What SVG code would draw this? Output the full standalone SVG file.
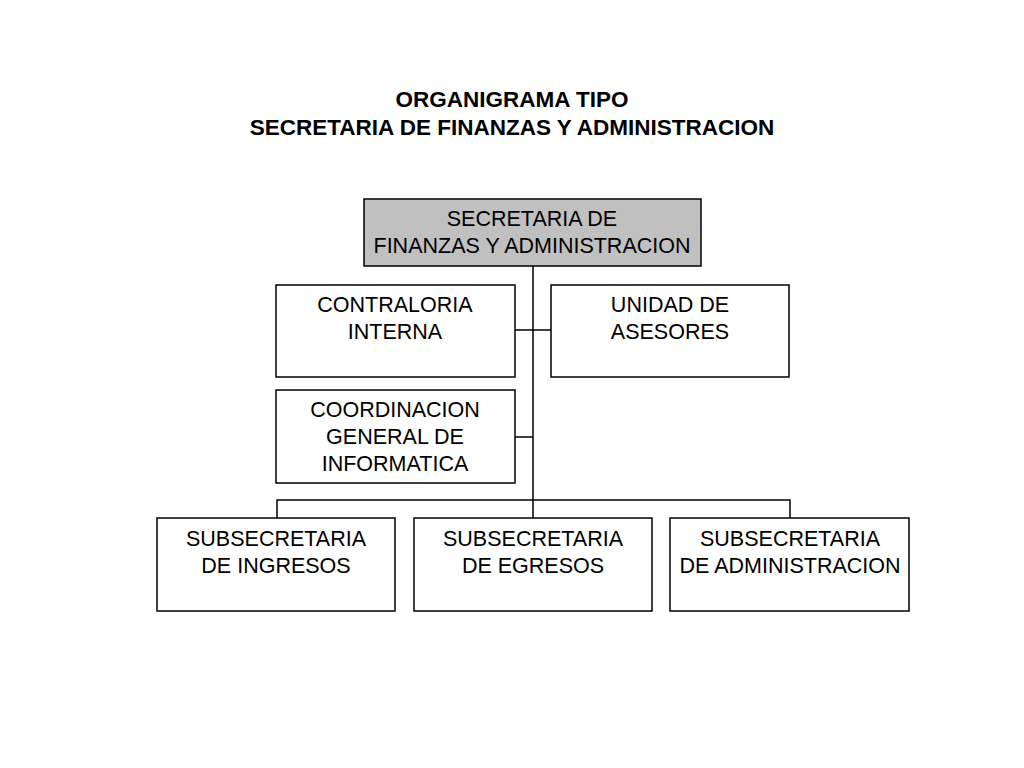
<svg xmlns="http://www.w3.org/2000/svg" width="1024" height="768" viewBox="0 0 1024 768">
<style>
.b{fill:#fff;stroke:#000;stroke-width:1.5}
.t{font-family:"Liberation Sans",Arial,sans-serif;font-size:21.5px;text-anchor:middle;fill:#000}
.h{font-family:"Liberation Sans",Arial,sans-serif;font-size:22.5px;font-weight:bold;text-anchor:middle}
.c{stroke:#000;stroke-width:1.5;fill:none}
</style>
<rect width="1024" height="768" fill="#fff"/>
<text class="h" x="512" y="107">ORGANIGRAMA TIPO</text>
<text class="h" x="512" y="135">SECRETARIA DE FINANZAS Y ADMINISTRACION</text>
<g id="connectors">
<path class="c" d="M533 266V500M515 330H551M515 437H533M277 518V500H790V518M533 500V518"/>
</g>
<g id="sec"><rect class="b" x="364" y="199" width="337" height="67" style="fill:#c0c0c0"/><text class="t" x="532" y="226">SECRETARIA DE</text><text class="t" x="532" y="253">FINANZAS Y ADMINISTRACION</text></g>
<g id="contra"><rect class="b" x="276" y="285" width="239" height="92"/><text class="t" x="395" y="312">CONTRALORIA</text><text class="t" x="395" y="339">INTERNA</text></g>
<g id="unidad"><rect class="b" x="551" y="285" width="238" height="92"/><text class="t" x="670" y="312">UNIDAD DE</text><text class="t" x="670" y="339">ASESORES</text></g>
<g id="coord"><rect class="b" x="276" y="390" width="239" height="93"/><text class="t" x="395" y="417">COORDINACION</text><text class="t" x="395" y="444">GENERAL DE</text><text class="t" x="395" y="471">INFORMATICA</text></g>
<g id="ing"><rect class="b" x="157" y="518" width="238" height="93"/><text class="t" x="276" y="546">SUBSECRETARIA</text><text class="t" x="276" y="573">DE INGRESOS</text></g>
<g id="egr"><rect class="b" x="414" y="518" width="238" height="93"/><text class="t" x="533" y="546">SUBSECRETARIA</text><text class="t" x="533" y="573">DE EGRESOS</text></g>
<g id="adm"><rect class="b" x="670" y="518" width="239" height="93"/><text class="t" x="790" y="546">SUBSECRETARIA</text><text class="t" x="790" y="573">DE ADMINISTRACION</text></g>
</svg>
